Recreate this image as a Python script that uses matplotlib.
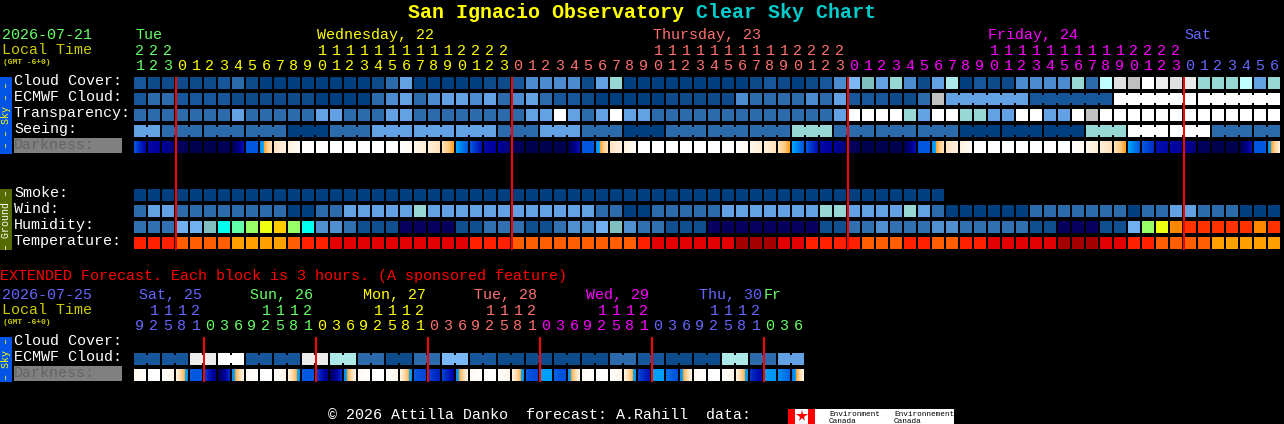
import numpy as np
import matplotlib
matplotlib.use("Agg")
import matplotlib.pyplot as plt
from matplotlib.colors import LinearSegmentedColormap

WIDTH, HEIGHT = 1284, 424
FONT = "Liberation Mono"

# ---- chart values ----

HOURS = [21, 22, 23,
         0, 1, 2, 3, 4, 5, 6, 7, 8, 9, 10, 11, 12, 13, 14, 15, 16, 17, 18, 19, 20, 21, 22, 23,
         0, 1, 2, 3, 4, 5, 6, 7, 8, 9, 10, 11, 12, 13, 14, 15, 16, 17, 18, 19, 20, 21, 22, 23,
         0, 1, 2, 3, 4, 5, 6, 7, 8, 9, 10, 11, 12, 13, 14, 15, 16, 17, 18, 19, 20, 21, 22, 23,
         0, 1, 2, 3, 4, 5, 6]
DAY_LABELS = ["Tue", "Wednesday, 22", "Thursday, 23", "Friday, 24", "Sat"]

CLOUD_COVER = [2, 1, 1, 1, 1, 1, 2, 3, 1, 0, 0, 0, 0, 0, 0, 0, 0, 1, 3, 5, 0,
               0, 0, 0, 0, 1, 1, 2, 4, 4, 4, 4, 1, 5, 8, 0, 0, 0, 0, 0, 0, 0, 0, 0, 1, 2, 1, 0, 1, 2, 4, 6,
               7, 5, 8, 4, 1, 5, 9, 0, 2, 1, 1, 4, 4, 4, 4, 8, 3, 10, 12, 11, 14, 13, 12, 13, 8, 8, 8, 10, 5, 8]
ECMWF_CLOUD = [2, 3, 3, 2, 2, 2, 2, 1, 1, 1, 1, 1, 1, 0, 0, 0, 0, 3, 4, 5, 3,
               4, 5, 5, 4, 5, 3, 4, 5, 3, 2, 2, 1, 0, 0, 0, 0, 0, 1, 1, 1, 1, 1, 4, 3, 3, 3, 3, 4, 3, 5, 2,
               2, 2, 1, 1, 3, 11, 5, 5, 5, 5, 5, 5, 2, 2, 2, 2, 2, 2, 14, 14, 14, 14, 14, 14, 14, 14, 14, 14, 14, 14]
TRANSPARENCY = [3, 3, 3, 3, 3, 3, 3, 5, 3, 3, 3, 3, 3, 5, 5, 3, 3, 3, 5, 5, 3,
                3, 3, 3, 3, 3, 3, 3, 5, 5, 14, 5, 3, 5, 14, 5, 5, 3, 3, 3, 3, 3, 3, 3, 3, 3, 3, 3, 3, 3, 5, 14,
                14, 14, 14, 8, 5, 14, 14, 8, 8, 5, 5, 14, 14, 5, 5, 14, 11, 14, 14, 14, 14, 14, 14, 14, 14, 14, 14, 14, 14, 14]
SEEING = [5, 5, 3, 3, 3, 3, 3, 3, 3, 3, 3, 0, 0, 0, 3, 3, 3, 5, 5, 5, 5,
          5, 5, 5, 5, 5, 3, 3, 3, 5, 5, 5, 3, 3, 3, 0, 0, 0, 3, 3, 3, 3, 3, 3, 3, 3, 3, 8, 8, 8, 3, 3,
          3, 3, 3, 3, 3, 3, 3, 0, 0, 0, 0, 0, 0, 0, 0, 0, 8, 8, 8, 14, 14, 14, 14, 14, 14, 3, 3, 3, 3, 3]
SMOKE = [0, 0, 0, 0, 0, 0, 0, 0, 0, 0, 0, 0, 0, 0, 0, 0, 0, 0, 0, 0, 0, 0, 0, 0, 0, 0, 0, 0, 0,
         0, 0, 0, 0, 0, 0, 0, 0, 0, 0, 0, 0, 0, 0, 0, 0, 0, 0, 0, 0, 0, 0, 0, 0, 0, 0, 0, 0, 0]
WIND = [3, 5, 5, 3, 3, 3, 3, 3, 3, 3, 3, 0, 0, 3, 3, 5, 5, 5, 5, 5, 8,
        5, 5, 5, 5, 5, 5, 5, 5, 5, 5, 5, 5, 3, 3, 0, 0, 3, 3, 3, 3, 3, 5, 5, 5, 5, 5, 5, 5, 8, 8, 5,
        5, 5, 5, 8, 5, 3, 0, 0, 0, 0, 0, 0, 3, 3, 3, 3, 3, 3, 3, 0, 3, 3, 5, 5, 3, 3, 3, 0, 0, 0]
HUMIDITY = [2, 2, 2, 4, 4, 5, 6, 7, 8, 9, 10, 8, 6, 3, 3, 2, 1, 1, 1, 0, 0,
            0, 0, 1, 1, 2, 2, 2, 1, 1, 2, 3, 3, 4, 5, 3, 2, 2, 1, 1, 1, 0, 0, 0, 0, 0, 0, 0, 0, 1, 1, 2,
            2, 3, 2, 2, 2, 3, 3, 2, 2, 2, 2, 2, 1, 1, 0, 0, 0, 1, 1, 4, 8, 9, 11, 12, 12, 12, 12, 12, 11, 12]
TEMPERATURE = [2, 2, 2, 3, 3, 3, 3, 4, 4, 4, 4, 3, 2, 2, 1, 1, 1, 1, 1, 1, 1,
               1, 1, 1, 2, 2, 2, 3, 3, 3, 3, 3, 3, 3, 3, 3, 2, 1, 1, 1, 1, 1, 1, 0, 0, 0, 1, 1, 2, 2, 2, 2,
               3, 3, 3, 2, 2, 3, 3, 2, 2, 1, 1, 1, 1, 1, 0, 0, 0, 1, 1, 2, 2, 3, 3, 3, 3, 4, 4, 4, 4, 4]

# darkness value at the left and right side of each block
DARK_LEFT = [4, 6.5, 7, 9, 10, 10, 9.5, 9.5, 4, 3, 1.3, 0.8, 0, 0, 0, 0, 0, 0, 0, 0, 0.5, 1, 1.4, 2.6,
             4, 6.5, 7, 9, 10, 10, 10, 9.5, 4, 3, 1.3, 0.8, 0, 0, 0, 0, 0, 0, 0, 0, 0.5, 1, 1.4, 2.6,
             4, 6.5, 7, 9, 10, 10, 10, 9.5, 4, 3, 1.3, 0.8, 0, 0, 0, 0, 0, 0, 0, 0, 0.5, 1, 1.4, 2.6,
             4, 6, 6.5, 7, 9, 10, 10, 9.5, 4, 3]
DARK_RIGHT = [6.5, 7, 8, 9.5, 10, 10, 9.5, 6, 4, 1.3, 0.8, 0.2, 0, 0, 0, 0, 0, 0, 0, 0.3, 1, 1.3, 2.45, 4,
              6, 7, 8, 9.5, 10, 10, 10, 6, 4, 1.3, 0.8, 0.2, 0, 0, 0, 0, 0, 0, 0, 0.3, 1, 1.3, 2.45, 4,
              6, 7, 8, 9.5, 10, 10, 10, 6, 4, 1.3, 0.8, 0.2, 0, 0, 0, 0, 0, 0, 0, 0.3, 1, 1.3, 2.45, 4,
              5, 6.5, 7, 8, 9.5, 10, 10, 6, 4, 1]

EXT_HOURS = [9, 12, 15, 18, 21,
             0, 3, 6, 9, 12, 15, 18, 21, 0, 3, 6, 9, 12, 15, 18, 21, 0, 3, 6, 9, 12, 15, 18, 21,
             0, 3, 6, 9, 12, 15, 18, 21, 0, 3, 6, 9, 12, 15, 18, 21, 0, 3, 6]
EXT_DAY_LABELS = ["Sat, 25", "Sun, 26", "Mon, 27", "Tue, 28", "Wed, 29", "Thu, 30", "Fr"]
EXT_ECMWF = [2, 2, 2, 2, 13, 13, 14, 14, 2, 2, 2, 2, 13, 13, 9, 9, 3, 3, 1, 1, 3, 3, 6, 6,
             2, 2, 1, 1, 1, 1, 1, 1, 1, 1, 3, 3, 2, 2, 1, 1, 1, 1, 9, 9, 3, 3, 5, 5]
EXT_DARK_LEFT = [0.5, 0, 0, 0.8, 4, 4.5, 9.5, 3, 0.3, 0, 0, 0.8, 4, 4.5, 9, 3, 0.3, 0, 0, 0.8, 4, 4.5, 4.5, 3,
                 0.3, 0, 0, 0.8, 4, 2.7, 3.8, 3, 0.3, 0, 0, 0.8, 4.5, 2.7, 3.5, 3, 0.3, 0, 0, 0.8, 5, 2.7, 3, 3.4]
EXT_DARK_RIGHT = [0, 0, 0.6, 2.9, 4, 7.5, 5, 0.7, 0, 0, 0.6, 2.9, 4, 7.5, 5, 0.7, 0, 0, 0.6, 2.9, 4.5, 5.5, 6.5, 0.7,
                  0, 0, 0.6, 2.9, 4.5, 2.7, 4.2, 0.7, 0, 0, 0.6, 2.9, 6, 2.7, 4.2, 0.7, 0, 0, 0.6, 2.9, 6.5, 2.9, 3.8, 0.7]

# ---- colours and layout ----

CLOUD_COLORS = ["#003f7f", "#0d4b8b", "#16579b", "#2b6bab", "#4b8bcf", "#62a2e4", "#7ab8f8", "#7fbfbf",
                "#98d8d4", "#ade9e9", "#bfffff", "#c0c0c0", "#e0e0e0", "#ececec", "#ffffff"]
HUMIDITY_COLORS = ["#08005f", "#0f4f8f", "#3070b0", "#4f8fd0", "#70b0f0", "#80bfbf", "#00ffee", "#60ffaa",
                   "#99ff66", "#eeff11", "#ffcc00", "#ff8800", "#ff3300"]
TEMP_COLORS = ["#a60000", "#e20000", "#ff2000", "#ff5f00", "#ff9f00"]
DARK_STOPS = [(0.0, "#ffffff"), (0.1, "#ffeed8"), (0.2, "#ffc880"), (0.25, "#ff9a10"), (0.2501, "#00aaff"),
              (0.4, "#0058e0"), (0.5, "#0030c8"), (0.6, "#0010b0"), (0.7, "#00009c"), (0.8, "#00007c"),
              (0.9, "#000060"), (1.0, "#000050")]
DARK_CMAP = LinearSegmentedColormap.from_list("darkness", DARK_STOPS, N=1024)

DAY_COLORS = {"green": "#66ff66", "yellow": "#ffff00", "salmon": "#ff7070", "magenta": "#ff00ff", "blue": "#6666ff"}
TOP_DAYS = ["green", "yellow", "salmon", "magenta", "blue"]
EXT_DAYS = ["blue", "green", "yellow", "salmon", "magenta", "blue", "green"]
TOP_DAY_X = [135, 317, 653, 988, 1184]
EXT_DAY_X = [139, 250, 363, 474, 586, 699, 764]

LEFT = 134
PITCH = 14
BLOCK = 12
PX = 72 / 100       # points per pixel at dpi 100


def col_x(n):
    """
    Left edge of block column n.
    """

    return LEFT + PITCH * n


def put_text(ax, x, y, s, color="white", size=15, **kw):
    """
    Text with a size given in pixels, y is the baseline.
    """

    kw.setdefault("family", FONT)
    ax.text(x, y - 1, s, color=color, fontsize=size * PX, va="baseline", **kw)


def draw_row(ax, values, top, colors, join=None):
    """
    Draw one row of blocks. join=(start, offset, span) links blocks in the same forecast step.
    """

    xs = [col_x(n) for n in range(len(values))]
    ax.bar(xs, BLOCK, width=BLOCK, bottom=top, align="edge", linewidth=0, antialiased=False,
           color=[colors[v] for v in values])
    if join is None:
        return
    start, offset, span = join
    for n in range(start, len(values) - 1):
        if (n - offset) // span == (n + 1 - offset) // span:
            ax.bar(col_x(n) + BLOCK, 8, width=PITCH - BLOCK, bottom=top + 2, align="edge",
                   linewidth=0, antialiased=False, color=colors[values[n]])


def draw_darkness(ax, lefts, rights, top):
    """
    Darkness blocks are small gradients from the left value to the right value.
    """

    for n, (a, b) in enumerate(zip(lefts, rights)):
        strip = np.linspace(a, b, BLOCK).reshape(1, -1)
        ax.imshow(strip, cmap=DARK_CMAP, vmin=0, vmax=10, aspect="auto", interpolation="nearest",
                  extent=(col_x(n), col_x(n) + BLOCK, top + BLOCK, top))


def draw_hours(ax, hours, days, tens_y, ones_y):
    """
    Hour digits above the blocks, coloured by day.
    """

    day = 0
    for n, hour in enumerate(hours):
        if n > 0 and hour < hours[n - 1]:
            day += 1
        color = DAY_COLORS[days[day]]
        center = col_x(n) + BLOCK / 2
        if hour >= 10:
            put_text(ax, center, tens_y, str(hour // 10), color=color, ha="center")
        put_text(ax, center, ones_y, str(hour % 10), color=color, ha="center")


def draw_midnights(ax, hours, y0, y1):
    """
    Red lines where a new day starts.
    """

    xs = [col_x(n) for n, hour in enumerate(hours) if n > 0 and hour < hours[n - 1]]
    ax.bar(xs, y1 - y0, width=2, bottom=y0, color="#ff0000", linewidth=0, antialiased=False, zorder=5)


def side_box(ax, y0, y1, color, label, text_color):
    """
    Narrow coloured box with rotated text at the left edge.
    """

    ax.bar(0, y1 - y0, width=12, bottom=y0, align="edge", color=color, linewidth=0, antialiased=False)
    ax.text(6, (y0 + y1) / 2, label, color=text_color, fontsize=10 * PX, rotation=90,
            ha="center", va="center", family=FONT)


def row_label(ax, s, top, dim=False):
    """
    Row name left of the blocks; the darkness name sits on a grey box.
    """

    if dim:
        ax.bar(14, 15, width=108, bottom=top - 3, align="edge", color="#808080", linewidth=0, antialiased=False)
        put_text(ax, 14, top + 9, s, color="#646464")
    else:
        put_text(ax, 14, top + 9, s)


def draw_logo(ax):
    """
    Environment Canada logo at the bottom right.
    """

    ax.bar(788, 15, width=166, bottom=409, align="edge", color="white", linewidth=0, antialiased=False)
    for x in (788, 808):
        ax.bar(x, 15, width=7, bottom=409, align="edge", color="#ff0000", linewidth=0, antialiased=False)
    ax.plot([801.5], [416], marker="*", markersize=9 * PX * 1.3, color="#ff0000", markeredgewidth=0)
    for x, word in ((829, "Environment"), (894, "Environnement")):
        put_text(ax, x, 417, word, color="black", size=7.8)
        put_text(ax, x, 424, "Canada", color="black", size=7.8)


def main():
    fig = plt.figure(figsize=(WIDTH / 100, HEIGHT / 100), dpi=100, facecolor="black")
    ax = fig.add_axes([0, 0, 1, 1], facecolor="black")

    # title
    put_text(ax, 408, 19, "San Ignacio Observatory", color="#ffff00", size=20, weight="bold")
    put_text(ax, 696, 19, "Clear Sky Chart", color="#00cccc", size=20, weight="bold")

    # near forecast header
    put_text(ax, 2, 40, "2026-07-21", color=DAY_COLORS["green"])
    put_text(ax, 2, 55, "Local Time", color="#cccc00")
    put_text(ax, 3, 65, "(GMT -6+0)", color="#cccc00", size=8, weight="bold")
    for x, label, day in zip(TOP_DAY_X, DAY_LABELS, TOP_DAYS):
        put_text(ax, x, 40, label, color=DAY_COLORS[day])
    draw_hours(ax, HOURS, TOP_DAYS, 56, 71)

    # sky rows
    side_box(ax, 77, 154, "#0055e8", "\u2013 \u2013 Sky \u2013 \u2013", "#ffff00")
    row_label(ax, "Cloud Cover:", 77)
    row_label(ax, "ECMWF Cloud:", 93)
    row_label(ax, "Transparency:", 109)
    row_label(ax, "Seeing:", 125)
    row_label(ax, "Darkness:", 141, dim=True)
    draw_row(ax, CLOUD_COVER, 77, CLOUD_COLORS)
    draw_row(ax, ECMWF_CLOUD, 93, CLOUD_COLORS, join=(58, 4, 6))
    draw_row(ax, TRANSPARENCY, 109, CLOUD_COLORS)
    draw_row(ax, SEEING, 125, CLOUD_COLORS, join=(0, 2, 3))
    draw_darkness(ax, DARK_LEFT, DARK_RIGHT, 141)

    # ground rows
    side_box(ax, 189, 250, "#556b00", "\u2013 Ground \u2013", "white")
    row_label(ax, "Smoke:", 189)
    row_label(ax, "Wind:", 205)
    row_label(ax, "Humidity:", 221)
    row_label(ax, "Temperature:", 237)
    draw_row(ax, SMOKE, 189, CLOUD_COLORS)
    draw_row(ax, WIND, 205, CLOUD_COLORS)
    draw_row(ax, HUMIDITY, 221, HUMIDITY_COLORS)
    draw_row(ax, TEMPERATURE, 237, TEMP_COLORS)
    draw_midnights(ax, HOURS, 77, 250)

    # extended forecast
    put_text(ax, 0, 281, "EXTENDED Forecast. Each block is 3 hours. (A sponsored feature)", color="#ff0000")
    put_text(ax, 2, 300, "2026-07-25", color=DAY_COLORS["blue"])
    put_text(ax, 2, 315, "Local Time", color="#cccc00")
    put_text(ax, 3, 325, "(GMT -6+0)", color="#cccc00", size=8, weight="bold")
    for x, label, day in zip(EXT_DAY_X, EXT_DAY_LABELS, EXT_DAYS):
        put_text(ax, x, 300, label, color=DAY_COLORS[day])
    draw_hours(ax, EXT_HOURS, EXT_DAYS, 316, 331)

    side_box(ax, 337, 382, "#0055e8", "\u2013 Sky \u2013", "#ffff00")
    row_label(ax, "Cloud Cover:", 337)
    row_label(ax, "ECMWF Cloud:", 353)
    row_label(ax, "Darkness:", 369, dim=True)
    draw_row(ax, EXT_ECMWF, 353, CLOUD_COLORS, join=(0, 0, 2))
    draw_darkness(ax, EXT_DARK_LEFT, EXT_DARK_RIGHT, 369)
    draw_midnights(ax, EXT_HOURS, 337, 382)

    # footer
    put_text(ax, 328, 420, "\u00a9 2026 Attilla Danko  forecast: A.Rahill  data:")
    draw_logo(ax)

    ax.set_xlim(0, WIDTH)
    ax.set_ylim(HEIGHT, 0)
    ax.axis("off")
    fig.savefig("out.png", dpi=100, facecolor="black")


if __name__ == "__main__":
    main()
